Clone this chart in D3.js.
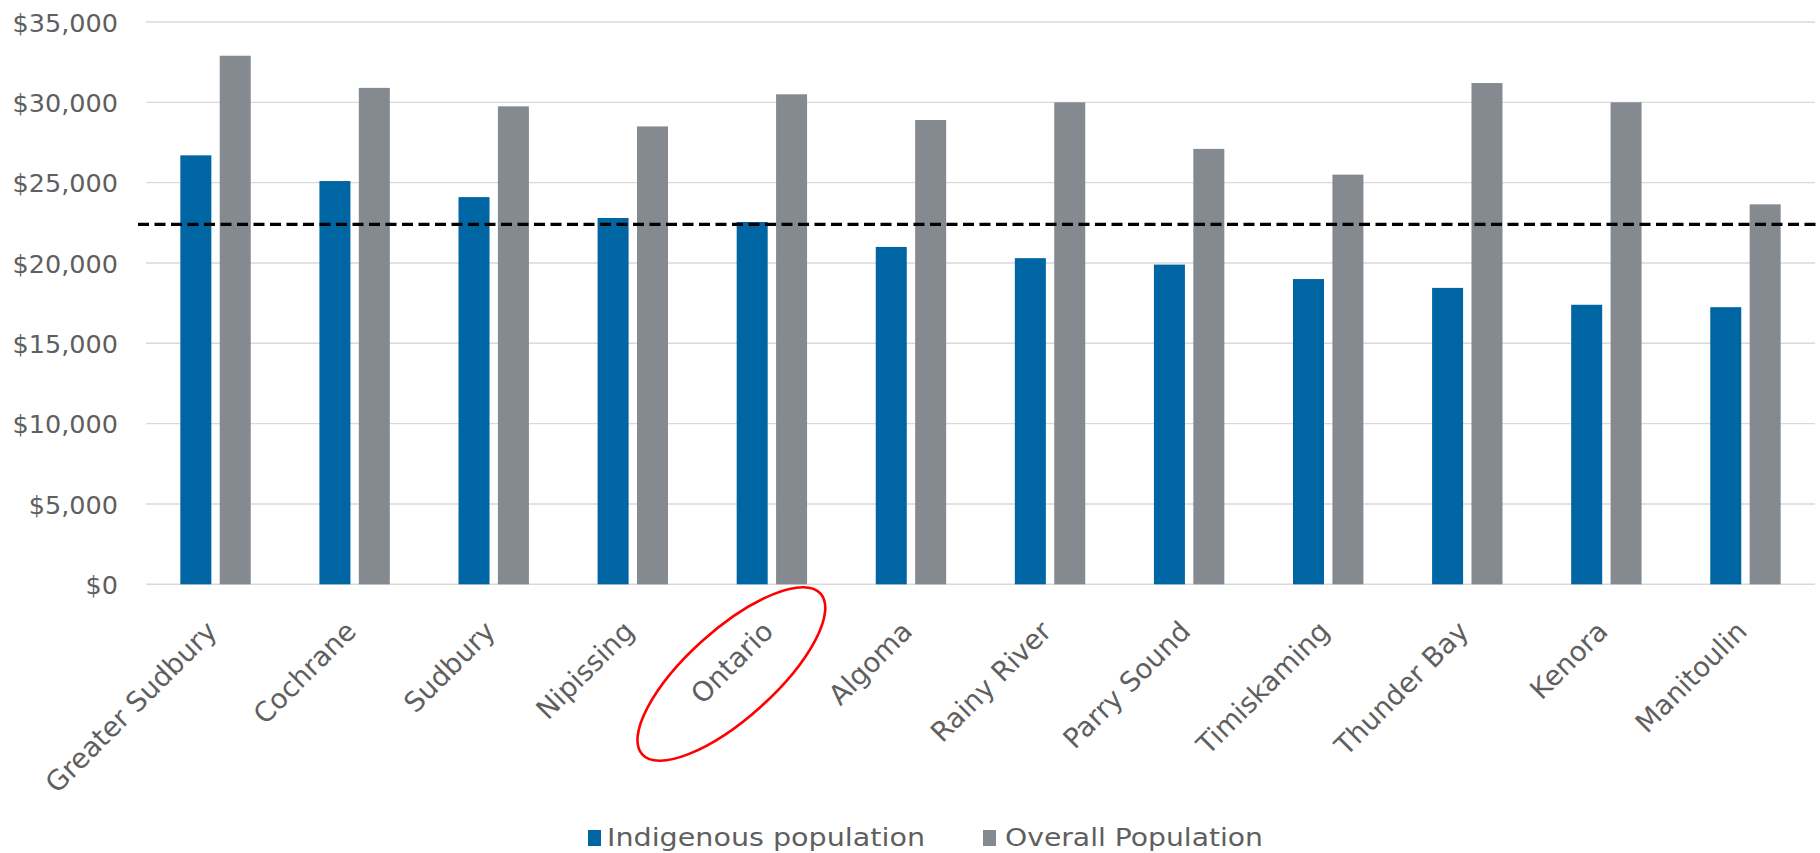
<!DOCTYPE html>
<html>
<head>
<meta charset="utf-8">
<script src="https://cdnjs.cloudflare.com/ajax/libs/d3/7.8.5/d3.min.js"></script>
<style>
  html, body { margin: 0; padding: 0; background: #fff; }
  svg { display: block; }
</style>
</head>
<body>
<svg id="chart" width="1820" height="853"></svg>
<script>
// ---- Data ----
const categories = ["Greater Sudbury", "Cochrane", "Sudbury", "Nipissing", "Ontario", "Algoma",
  "Rainy River", "Parry Sound", "Timiskaming", "Thunder Bay", "Kenora", "Manitoulin"];
const indigenous = [26700, 25100, 24100, 22800, 22550, 21000, 20300, 19900, 19000, 18450, 17400, 17250];
const overall    = [32900, 30900, 29750, 28500, 30500, 28900, 30000, 27100, 25500, 31200, 30000, 23650];
const seriesNames = ["Indigenous population", "Overall Population"];
const seriesColors = ["#0065a3", "#858a91"];
const yTicks = [0, 5000, 10000, 15000, 20000, 25000, 30000, 35000];
const referenceValue = 22400; // dashed reference line
const highlighted = "Ontario";

// ---- Layout ----
const svg = d3.select("#chart");
const plotLeft = 146, plotRight = 1815, plotTop = 22, plotBottom = 584.3;
const font = "'DejaVu Sans', Lato, sans-serif";
const textColor = "#5f5f5f";

const x0 = d3.scaleBand().domain(categories).range([plotLeft, plotRight]).paddingInner(0).paddingOuter(0);
const x1 = d3.scaleBand().domain(seriesNames).range([-35.2, 35.2]).paddingInner(0.213).paddingOuter(0);
const y = d3.scaleLinear().domain([0, 35000]).range([plotBottom, plotTop]);

// Gridlines
svg.append("g").selectAll("line").data(yTicks).join("line")
  .attr("x1", plotLeft).attr("x2", plotRight)
  .attr("y1", d => y(d)).attr("y2", d => y(d))
  .attr("stroke", "#d9d9d9").attr("stroke-width", 1.4);

// Y axis labels
const yAxis = d3.axisLeft(y).tickValues(yTicks).tickSize(0).tickPadding(0)
  .tickFormat(d => "$" + d3.format(",")(d));
const gy = svg.append("g").attr("transform", `translate(118,0)`).call(yAxis);
gy.select(".domain").remove();
gy.selectAll("text").attr("font-family", font).attr("font-size", 25.5).attr("fill", textColor)
  .attr("dy", "0.36em");

// Bars
const rows = categories.map((c, i) => ({ cat: c, vals: [indigenous[i], overall[i]] }));
const groups = svg.append("g").selectAll("g").data(rows).join("g")
  .attr("transform", d => `translate(${x0(d.cat) + x0.bandwidth() / 2},0)`);
groups.selectAll("rect").data(d => d.vals.map((v, k) => ({ key: seriesNames[k], v, k }))).join("rect")
  .attr("x", d => x1(d.key))
  .attr("width", x1.bandwidth())
  .attr("y", d => y(d.v))
  .attr("height", d => y(0) - y(d.v))
  .attr("fill", d => seriesColors[d.k]);

// Dashed reference line
svg.append("line")
  .attr("x1", 138).attr("x2", 1820)
  .attr("y1", y(referenceValue)).attr("y2", y(referenceValue))
  .attr("stroke", "#000").attr("stroke-width", 3.3)
  .attr("stroke-dasharray", "11 5.5");

// X labels (rotated)
svg.append("g").selectAll("text").data(categories).join("text")
  .attr("transform", d => `translate(${x0(d) + x0.bandwidth() / 2 + 3},633) rotate(-45)`)
  .attr("text-anchor", "end")
  .attr("font-family", font).attr("font-size", 27.5).attr("fill", textColor)
  .text(d => d);

// Highlight ellipse around Ontario
const hx = x0(highlighted) + x0.bandwidth() / 2;
svg.append("ellipse")
  .attr("cx", hx - 40.5).attr("cy", 674)
  .attr("rx", 120).attr("ry", 44)
  .attr("transform", `rotate(-42,${hx - 40.5},674)`)
  .attr("fill", "none").attr("stroke", "#ff0000").attr("stroke-width", 2.6);

// Legend
const legendItems = [
  { name: seriesNames[0], color: seriesColors[0], sx: 588, tx: 607, tw: 318 },
  { name: seriesNames[1], color: seriesColors[1], sx: 983, tx: 1005, tw: 258 }
];
const lg = svg.append("g");
lg.selectAll("rect").data(legendItems).join("rect")
  .attr("x", d => d.sx).attr("y", 830).attr("width", 13).attr("height", 16)
  .attr("fill", d => d.color);
lg.selectAll("text").data(legendItems).join("text")
  .attr("x", d => d.tx).attr("y", 846)
  .attr("font-family", font).attr("font-size", 24).attr("fill", textColor)
  .attr("textLength", d => d.tw).attr("lengthAdjust", "spacingAndGlyphs")
  .text(d => d.name);
</script>
</body>
</html>
